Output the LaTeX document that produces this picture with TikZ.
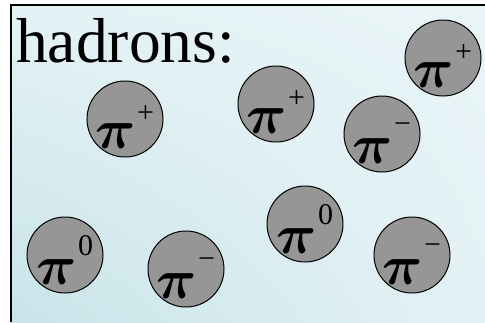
\RequirePackage{fix-cm}
\documentclass[tikz,border=0pt]{standalone}
\usepackage{amsmath}
\usepackage{fontspec}
\setmainfont{Liberation Serif}
\usetikzlibrary{positioning,shadings}
\definecolor{BgLight}{RGB}{228,242,245}
\definecolor{BgDark}{RGB}{200,228,233}
\definecolor{PionGray}{RGB}{150,150,150}
\newcommand{\pisup}[2]{\raisebox{-29pt}[0pt][0pt]{\fontsize{56}{56}\selectfont$\boldsymbol{\pi}$\kern1pt\raisebox{#2}{\fontsize{30}{30}\selectfont #1}}}
\tikzset{
	pion/.style={circle,draw=black,line width=1pt,fill=PionGray,minimum size=76pt,inner sep=0pt},
	title/.style={anchor=base west,inner sep=0pt,font=\fontsize{63.5}{63.5}\selectfont},
}
\begin{document}
\begin{tikzpicture}[x=1pt,y=-1pt]
	\useasboundingbox (0,0) rectangle (485,322);
	\shade[upper left=BgLight,upper right=BgLight!80!white,lower left=BgDark,lower right=BgLight] (11,5) rectangle (485,322);
	\draw[line width=2pt] (11,322) -- (11,5) -- (485,5);
	\node[title] (hadrons) at (16,62) {hadrons:};
	% pions
	\node[pion] (p1) at (125,119) {\pisup{+}{26pt}};
	\node[pion] (p2) at (276,104) {\pisup{+}{26pt}};
	\node[pion] (p3) at (443,58) {\pisup{+}{26pt}};
	\node[pion] (m1) at (382,134) {\pisup{−}{30pt}};
	\node[pion] (m2) at (412,255) {\pisup{−}{30pt}};
	\node[pion] (m3) at (186,269) {\pisup{−}{30pt}};
	\node[pion] (z1) at (305,224) {\pisup{0}{29pt}};
	\node[pion] (z2) at (65,255) {\pisup{0}{29pt}};
\end{tikzpicture}
\end{document}
